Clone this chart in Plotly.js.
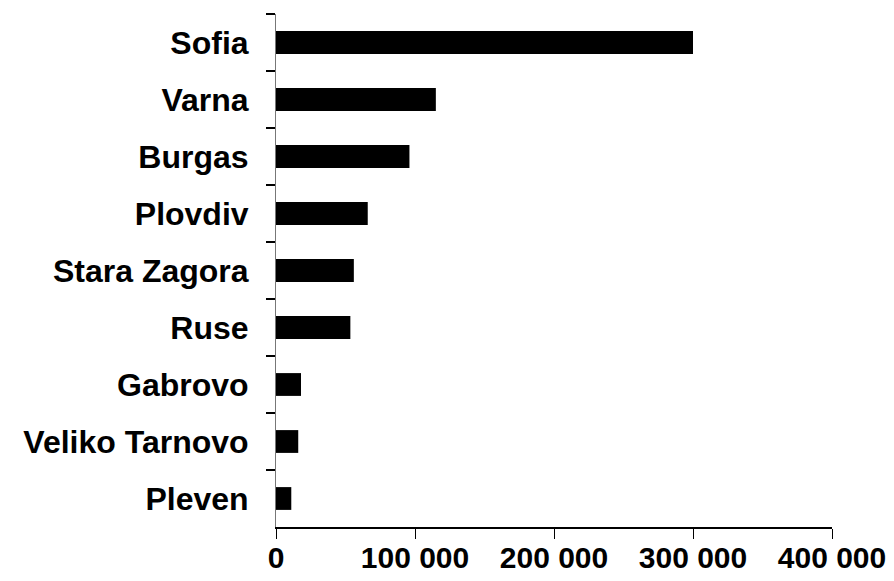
<!DOCTYPE html>
<html>
<head>
<meta charset="utf-8">
<script src="https://cdn.plot.ly/plotly-3.0.1.min.js"></script>
<style>html,body{margin:0;padding:0;background:#fff;}#chart{width:894px;height:581px;}</style>
</head>
<body>
<div id="chart"></div>
<script>
const cities = ["Sofia", "Varna", "Burgas", "Plovdiv", "Stara Zagora", "Ruse", "Gabrovo", "Veliko Tarnovo", "Pleven"];
const values = [300000, 115000, 96000, 66000, 56000, 53500, 18000, 16000, 11000];
const xTicks = [0, 100000, 200000, 300000, 400000];

const yFont = {family: "Liberation Sans, Arial, sans-serif", size: 32, color: "#000", weight: "bold"};
const xFont = {family: "Liberation Sans, Arial, sans-serif", size: 30, color: "#000", weight: "bold"};

Plotly.newPlot("chart", [{
  type: "bar",
  orientation: "h",
  y: cities,
  x: values,
  marker: {color: "#000", line: {width: 0}},
  hoverinfo: "none"
}], {
  width: 894,
  height: 581,
  margin: {l: 276, r: 62, t: 14, b: 54, pad: 0},
  paper_bgcolor: "#fff",
  plot_bgcolor: "#fff",
  separators: ". ",
  bargap: 0.6,
  showlegend: false,
  font: xFont,
  xaxis: {
    range: [0, 400000],
    tickvals: xTicks,
    tickformat: ",",
    showgrid: false,
    zeroline: false,
    showline: true,
    linecolor: "#000",
    linewidth: 1.5,
    ticks: "outside",
    ticklen: 10,
    tickwidth: 1,
    tickcolor: "#000",
    tickfont: xFont,
    ticklabelstandoff: -7,
    automargin: false
  },
  yaxis: {
    autorange: "reversed",
    showgrid: false,
    zeroline: false,
    showline: true,
    linecolor: "#777",
    linewidth: 1,
    ticks: "outside",
    tickson: "boundaries",
    ticklen: 9,
    tickwidth: 1.5,
    tickcolor: "#000",
    tickfont: yFont,
    ticklabelstandoff: 20,
    automargin: false
  }
}, {staticPlot: true, displayModeBar: false});
</script>
</body>
</html>
